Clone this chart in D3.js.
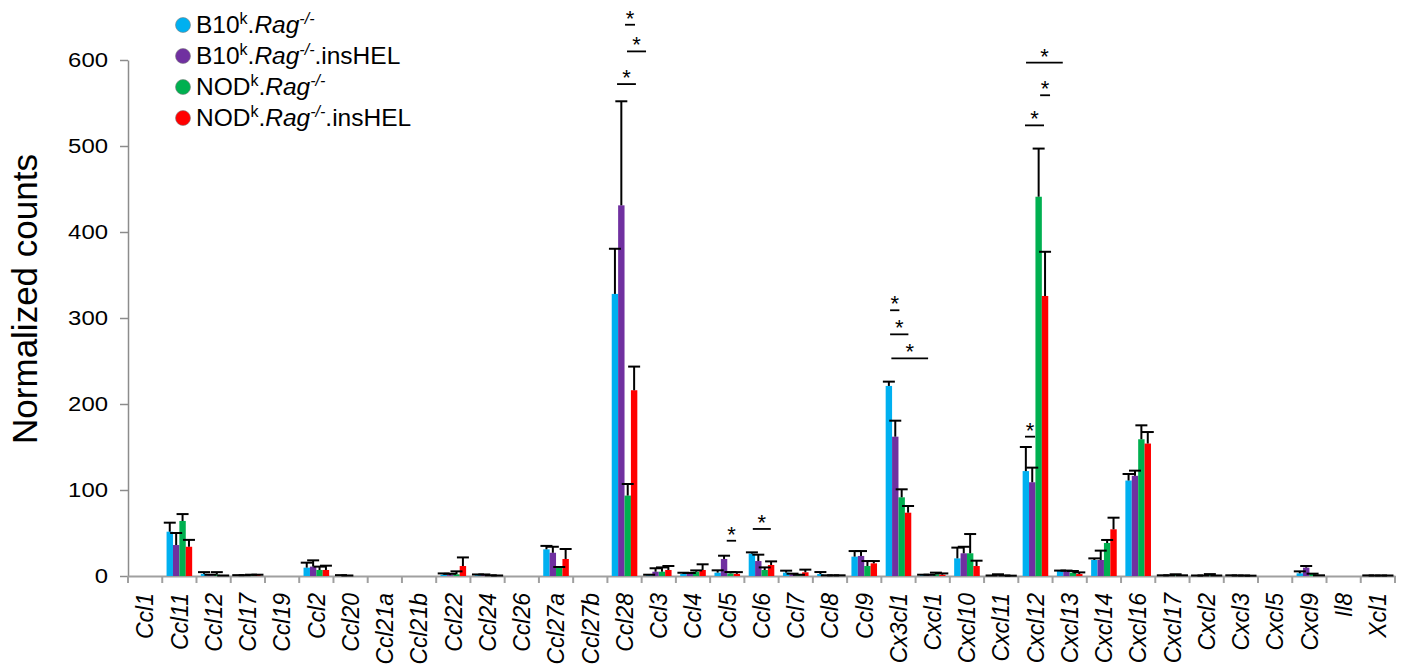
<!DOCTYPE html>
<html>
<head>
<meta charset="utf-8">
<script src="https://cdn.jsdelivr.net/npm/d3@7"></script>
<style>
body { margin: 0; background: #fff; }
text { font-family: "Liberation Sans", Arial, sans-serif; fill: #000; }
</style>
</head>
<body>
<div id="chart"></div>
<script>
// chemokine genes on the x axis
var categories = ["Ccl1","Ccl11","Ccl12","Ccl17","Ccl19","Ccl2","Ccl20","Ccl21a","Ccl21b","Ccl22","Ccl24","Ccl26","Ccl27a","Ccl27b","Ccl28",
  "Ccl3","Ccl4","Ccl5","Ccl6","Ccl7","Ccl8","Ccl9","Cx3cl1","Cxcl1","Cxcl10","Cxcl11","Cxcl12","Cxcl13","Cxcl14","Cxcl16",
  "Cxcl17","Cxcl2","Cxcl3","Cxcl5","Cxcl9","Il8","Xcl1"];

// mean normalized counts and (upper) error, one pair per strain
var b10 =        [0, 51.5, 2.5, 0.5, 0, 9.7, 0.5, 0, 0, 1.5, 1, 0, 31, 0, 328, 1, 2.3, 3.9, 26, 3.9, 2.3, 22.5, 221, 1, 20.5, 0.3, 122, 5.8, 18.6, 111, 0.5, 0.3, 0.3, 0, 3.1, 0, 0.3];
var b10Err =     [0, 10.5, 2, 0.5, 0, 5.8, 0.5, 0, 0, 1.5, 0.8, 0, 4, 0, 52.5, 0.5, 1.5, 2.7, 1.5, 2.3, 2.3, 6.5, 5, 0.5, 12.5, 0.3, 28, 0.5, 1.9, 7.6, 0.3, 0.3, 0.5, 0, 2.3, 0, 0.4];
var b10Ins =     [0, 36, 1, 0.5, 0, 10.9, 0.3, 0, 0, 1, 1, 0, 27, 0, 431, 5, 2.5, 19.8, 17.4, 2, 0.5, 23.3, 162, 1, 26.4, 0.5, 109, 5.8, 18.6, 116.5, 0.5, 0.3, 0.3, 0, 9.7, 0, 0.3];
var b10InsErr =  [0, 14, 0.5, 0.5, 0, 7.3, 0.3, 0, 0, 1.5, 0.8, 0, 7, 0, 121, 4, 1, 3.8, 7.4, 0.7, 0.3, 5.7, 18.6, 0.5, 7.6, 1.5, 17, 0.5, 10.9, 6, 0.3, 0.3, 0.3, 0, 1.9, 0, 0.3];
var nod =        [0, 64, 1.5, 1, 0, 7, 0, 0, 0, 2, 0.5, 0, 10, 0, 93.5, 5, 5, 3, 7, 1, 0.5, 11.6, 91.5, 2, 26.4, 0.3, 441, 3.9, 38.4, 159, 1, 1, 0.3, 0, 2.3, 0, 0.3];
var nodErr =     [0, 8, 3, 0.5, 0, 3.9, 0, 0, 0, 3.4, 0.3, 0, 0.5, 0, 13.5, 5, 1.5, 1.6, 3, 0.5, 0.3, 5.8, 9.3, 1.9, 22.4, 0.3, 56, 1.9, 3.5, 16.2, 1, 1.2, 0.3, 0, 0.4, 0, 0.3];
var nodIns =     [0, 34, 0.3, 1, 0, 7, 0, 0, 0, 11.6, 0.3, 0, 19.8, 0, 216, 7, 7, 2.5, 12.8, 4.3, 0.5, 14.7, 73.6, 1.5, 11.6, 0.2, 325.6, 2.3, 54.3, 154, 0.5, 0.3, 0.2, 0, 0.5, 0, 0.3];
var nodInsErr =  [0, 8, 0.3, 0.5, 0, 5, 0, 0, 0, 10, 0.3, 0, 11.6, 0, 27.5, 4.6, 6.6, 2, 4.2, 3.1, 0.3, 2.7, 7.8, 1.5, 6.2, 0.2, 51.4, 1.9, 13.5, 13.4, 0.3, 0.3, 0.2, 0, 0.3, 0, 0.3];

var yTicks = [0, 100, 200, 300, 400, 500, 600];

// legend: strain, superscript, whether insHEL
var legendItems = [
  {strain: "B10", sup: "k", ins: false},
  {strain: "B10", sup: "k", ins: true},
  {strain: "NOD", sup: "k", ins: false},
  {strain: "NOD", sup: "k", ins: true}
];
var colors = ["#00b0f0", "#7030a0", "#00b050", "#ff0000"];

// significance brackets: category, from/to bar index (fractional), height in counts
var sigMarks = [
  {cat: "Ccl28", from: 1.58, to: 3.14, value: 641},
  {cat: "Ccl28", from: 1.89, to: 4.86, value: 610},
  {cat: "Ccl28", from: 0.33, to: 3.28, value: 572},
  {cat: "Ccl5", from: 1.42, to: 2.88, value: 41},
  {cat: "Ccl6", from: 0.14, to: 2.95, value: 54.7},
  {cat: "Cx3cl1", from: 0.19, to: 1.64, value: 309},
  {cat: "Cx3cl1", from: 0.19, to: 3.05, value: 281},
  {cat: "Cx3cl1", from: 0.39, to: 6.13, value: 253},
  {cat: "Cxcl12", from: 0.03, to: 5.77, value: 597},
  {cat: "Cxcl12", from: 2.23, to: 3.78, value: 559},
  {cat: "Cxcl12", from: -0.13, to: 2.84, value: 524},
  {cat: "Cxcl12", from: -0.13, to: 1.44, value: 162}
];

var series = [
  {vals: b10, errs: b10Err},
  {vals: b10Ins, errs: b10InsErr},
  {vals: nod, errs: nodErr},
  {vals: nodIns, errs: nodInsErr}
];

var width = 1408;
var height = 671;
var margin = {top: 60, right: 13, bottom: 95, left: 128};

var svg = d3.select("#chart")
  .append("svg")
    .attr("width", width)
    .attr("height", height);

var x0 = d3.scaleBand()
  .domain(categories)
  .range([margin.left, width - margin.right])
  .padding(0);

var x1 = d3.scaleBand()
  .domain(d3.range(series.length))
  .range([0, x0.bandwidth()])
  .paddingInner(0)
  .paddingOuter(0.675);

var y = d3.scaleLinear()
  .domain([0, 600])
  .range([height - margin.bottom, margin.top]);

function barCenter(cat, i) {
  return x0(cat) + x1(0) + x1.step() * (i + 0.5);
}

// y axis
var yAxis = svg.append("g")
  .attr("transform", "translate(" + margin.left + ",0)")
  .call(d3.axisLeft(y).tickValues(yTicks).tickSize(8).tickSizeOuter(0).tickPadding(12));
yAxis.select(".domain").attr("stroke", "#8c8c8c").attr("stroke-width", 1.5);
yAxis.selectAll(".tick line").attr("stroke", "#8c8c8c").attr("stroke-width", 1.5);
yAxis.selectAll(".tick text")
  .style("font-size", "19.5px")
  .attr("textLength", function(d) { return String(d).length * 13.3; })
  .attr("lengthAdjust", "spacingAndGlyphs");

// x axis
var xAxis = svg.append("g")
  .attr("transform", "translate(0," + y(0) + ")")
  .call(d3.axisBottom(x0).tickSize(0).tickSizeOuter(0));
xAxis.select(".domain").attr("stroke", "#a0a0a0").attr("stroke-width", 2);
xAxis.selectAll(".tick text")
  .attr("transform", "rotate(-90)")
  .attr("x", -17)
  .attr("y", 0)
  .attr("dy", "0.36em")
  .style("text-anchor", "end")
  .style("font-size", "23px")
  .style("font-style", "italic");

// category boundary ticks
var bounds = categories.map(function(c) { return x0(c); }).concat([x0.range()[1]]);
svg.append("g").selectAll("line")
  .data(bounds)
  .enter()
  .append("line")
    .attr("x1", function(d) { return d; })
    .attr("x2", function(d) { return d; })
    .attr("y1", y(0))
    .attr("y2", y(0) + 7)
    .attr("stroke", "#a0a0a0")
    .attr("stroke-width", 2);

// bars
series.forEach(function(s, i) {
  svg.append("g").selectAll("rect")
    .data(categories.map(function(c, k) { return {cat: c, v: s.vals[k]}; }))
    .enter()
    .append("rect")
      .attr("x", function(d) { return x0(d.cat) + x1(i); })
      .attr("y", function(d) { return y(d.v); })
      .attr("width", x1.bandwidth())
      .attr("height", function(d) { return y(0) - y(d.v); })
      .style("fill", colors[i]);
});

// error bars (upper only)
series.forEach(function(s, i) {
  var data = categories.map(function(c, k) { return {cat: c, v: s.vals[k], e: s.errs[k]}; })
    .filter(function(d) { return d.v > 0 || d.e > 0; });
  var g = svg.append("g").attr("stroke", "#000").attr("stroke-width", 2);
  g.selectAll("line.stem")
    .data(data)
    .enter()
    .append("line")
      .attr("class", "stem")
      .attr("x1", function(d) { return barCenter(d.cat, i); })
      .attr("x2", function(d) { return barCenter(d.cat, i); })
      .attr("y1", function(d) { return y(d.v); })
      .attr("y2", function(d) { return y(d.v + d.e); });
  g.selectAll("line.cap")
    .data(data)
    .enter()
    .append("line")
      .attr("class", "cap")
      .attr("x1", function(d) { return barCenter(d.cat, i) - 6; })
      .attr("x2", function(d) { return barCenter(d.cat, i) + 6; })
      .attr("y1", function(d) { return y(d.v + d.e); })
      .attr("y2", function(d) { return y(d.v + d.e); });
});

// significance marks
var sig = svg.append("g");
sig.selectAll("line")
  .data(sigMarks)
  .enter()
  .append("line")
    .attr("x1", function(d) { return barCenter(d.cat, d.from); })
    .attr("x2", function(d) { return barCenter(d.cat, d.to); })
    .attr("y1", function(d) { return y(d.value); })
    .attr("y2", function(d) { return y(d.value); })
    .attr("stroke", "#000")
    .attr("stroke-width", 1.8);
sig.selectAll("text")
  .data(sigMarks)
  .enter()
  .append("text")
    .attr("x", function(d) { return (barCenter(d.cat, d.from) + barCenter(d.cat, d.to)) / 2; })
    .attr("y", function(d) { return y(d.value) + 1; })
    .attr("text-anchor", "middle")
    .style("font-size", "22px")
    .text("*");

// y title
svg.append("text")
  .attr("transform", "translate(37,299) rotate(-90)")
  .attr("text-anchor", "middle")
  .style("font-size", "35px")
  .text("Normalized counts");

// legend
var legend = svg.append("g");
legendItems.forEach(function(d, i) {
  var base = 33 + i * 31;
  legend.append("circle")
    .attr("cx", 183)
    .attr("cy", base - 8)
    .attr("r", 7.5)
    .attr("fill", colors[i])
    .attr("stroke", "#7f7f7f")
    .attr("stroke-width", 0.6);
  var t = legend.append("text")
    .attr("x", 196)
    .attr("y", base)
    .style("font-size", "24.5px");
  t.append("tspan").text(d.strain);
  t.append("tspan").attr("dy", -9).style("font-size", "16px").text(d.sup);
  t.append("tspan").attr("dy", 9).text(".");
  t.append("tspan").style("font-style", "italic").text("Rag");
  t.append("tspan").attr("dy", -9).style("font-size", "16px").style("font-style", "italic").text("-/-");
  if (d.ins) {
    t.append("tspan").attr("dy", 9).text(".insHEL");
  }
});
</script>
</body>
</html>
